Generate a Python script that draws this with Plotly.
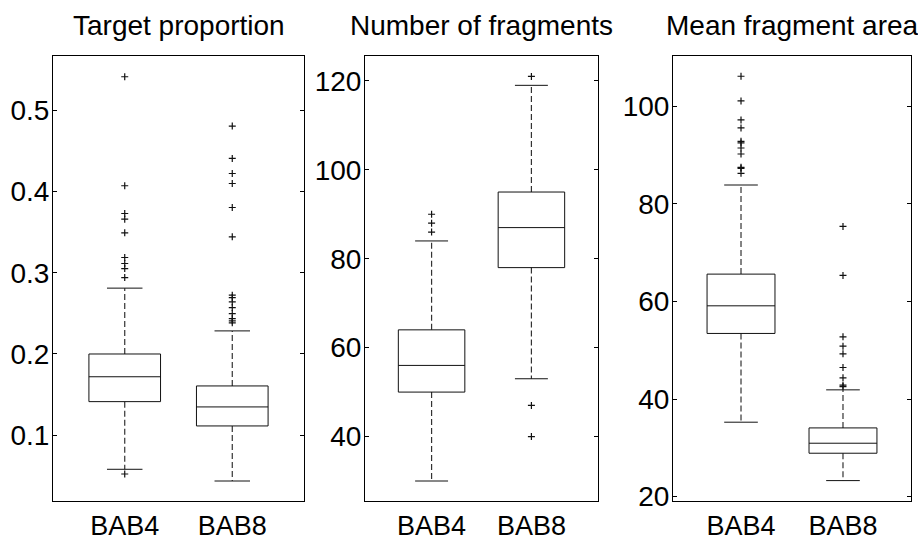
import plotly.graph_objects as go

# ---------------- data ----------------
titles = ["Target proportion", "Number of fragments", "Mean fragment area"]
groups = ["BAB4", "BAB8"]

# Target proportion
tp_q1 = [0.1414, 0.1115]
tp_med = [0.172, 0.1349]
tp_q3 = [0.200, 0.1607]
tp_lo = [0.0582, 0.0438]
tp_hi = [0.281, 0.2284]
tp_out = [
    [0.541, 0.4069, 0.3728, 0.3658, 0.349, 0.3187, 0.3113, 0.3051, 0.294, 0.0524],
    [0.4803, 0.4405, 0.422, 0.4097, 0.3802, 0.3441, 0.2723, 0.2694, 0.2641,
     0.2571, 0.2497, 0.2436, 0.2408, 0.2383],
]

# Number of fragments
nf_q1 = [50, 78]
nf_med = [56, 87]
nf_q3 = [64, 95]
nf_lo = [30, 53]
nf_hi = [84, 119]
nf_out = [
    [90, 88, 86],
    [121, 47, 40],
]

# Mean fragment area
ma_q1 = [53.44, 28.89]
ma_med = [59.1, 30.94]
ma_q3 = [65.6, 34.08]
ma_lo = [35.25, 23.28]
ma_hi = [83.86, 41.88]
ma_out = [
    [106.15, 101.09, 97.2, 95.56, 92.82, 92.48, 91.45, 90.22, 87.49, 87.28, 86.26],
    [75.38, 65.33, 52.75, 50.84, 49.26, 46.46, 44.34, 42.84, 42.56],
]

y_ticks = [
    [0.1, 0.2, 0.3, 0.4, 0.5],
    [40, 60, 80, 100, 120],
    [20, 40, 60, 80, 100],
]
y_ranges = [[0.0192, 0.5665], [25.5, 125.6], [19.1, 110.3]]

panels = [
    (tp_q1, tp_med, tp_q3, tp_lo, tp_hi, tp_out),
    (nf_q1, nf_med, nf_q3, nf_lo, nf_hi, nf_out),
    (ma_q1, ma_med, ma_q3, ma_lo, ma_hi, ma_out),
]

# ---------------- layout constants ----------------
W, H = 918, 541
x_dom = [[53 / W, 304 / W], [365 / W, 598 / W], [673 / W, 911 / W]]
y_dom = [1 - 501 / H, 1 - 56 / H]
BOX_HW = 0.333   # half box width (category units)
CAP_HW = 0.165   # half whisker-cap width
FONT = "Liberation Sans, Arial, Helvetica, sans-serif"
LC = "#111111"

fig = go.Figure()

for i, (q1, med, q3, lo, hi, out) in enumerate(panels):
    xa = "x" if i == 0 else f"x{i+1}"
    ya = "y" if i == 0 else f"y{i+1}"
    pos = [1, 2]

    bx, by, mx, my, wx, wy, cx, cy, ox, oy = [], [], [], [], [], [], [], [], [], []
    for k, p in enumerate(pos):
        bx += [p - BOX_HW, p + BOX_HW, p + BOX_HW, p - BOX_HW, p - BOX_HW, None]
        by += [q1[k], q1[k], q3[k], q3[k], q1[k], None]
        mx += [p - BOX_HW, p + BOX_HW, None]
        my += [med[k], med[k], None]
        wx += [p, p, None, p, p, None]
        wy += [q3[k], hi[k], None, q1[k], lo[k], None]
        cx += [p - CAP_HW, p + CAP_HW, None, p - CAP_HW, p + CAP_HW, None]
        cy += [hi[k], hi[k], None, lo[k], lo[k], None]
        ox += [p] * len(out[k])
        oy += out[k]

    common = dict(xaxis=xa, yaxis=ya, showlegend=False, hoverinfo="skip")
    fig.add_trace(go.Scatter(x=wx, y=wy, mode="lines",
                             line=dict(color="#333333", width=1.2, dash="6px,3px"), **common))
    fig.add_trace(go.Scatter(x=cx, y=cy, mode="lines",
                             line=dict(color=LC, width=1), **common))
    fig.add_trace(go.Scatter(x=bx, y=by, mode="lines",
                             line=dict(color=LC, width=1), **common))
    fig.add_trace(go.Scatter(x=mx, y=my, mode="lines",
                             line=dict(color=LC, width=1), **common))
    fig.add_trace(go.Scatter(x=ox, y=oy, mode="markers",
                             marker=dict(symbol="cross-thin", size=5,
                                         line=dict(color=LC, width=1.2)), **common))

    xkey = "xaxis" if i == 0 else f"xaxis{i+1}"
    ykey = "yaxis" if i == 0 else f"yaxis{i+1}"
    fig.layout[xkey] = dict(
        domain=x_dom[i], anchor=ya, range=[0.333, 2.667], automargin=False,
        tickvals=[1, 2], ticktext=groups, ticks="", ticklabelstandoff=1,
        showline=True, mirror=True, linecolor="black", linewidth=1,
        showgrid=False, zeroline=False,
        tickfont=dict(family=FONT, size=27, color="black"),
    )
    fig.layout[ykey] = dict(
        domain=y_dom, anchor=xa, range=y_ranges[i], automargin=False,
        tickvals=y_ticks[i], ticks="inside", ticklen=4, tickcolor="black",
        ticklabelstandoff=-3,
        showline=True, mirror="ticks", linecolor="black", linewidth=1,
        showgrid=False, zeroline=False,
        tickfont=dict(family=FONT, size=28, color="black"),
    )
    fig.add_annotation(
        text=titles[i], xref="paper", yref="paper",
        x=(x_dom[i][0] + x_dom[i][1]) / 2, y=1 - 25 / H,
        xanchor="center", yanchor="middle", showarrow=False,
        font=dict(family=FONT, size=28, color="black"),
    )

fig.update_layout(
    width=W, height=H,
    margin=dict(l=0, r=0, t=0, b=0, autoexpand=False),
    paper_bgcolor="white", plot_bgcolor="white",
)

fig.write_html(
    "out.html",
    config={"displayModeBar": False},
    post_script="document.body.style.margin='0';document.body.style.overflow='hidden';",
)
